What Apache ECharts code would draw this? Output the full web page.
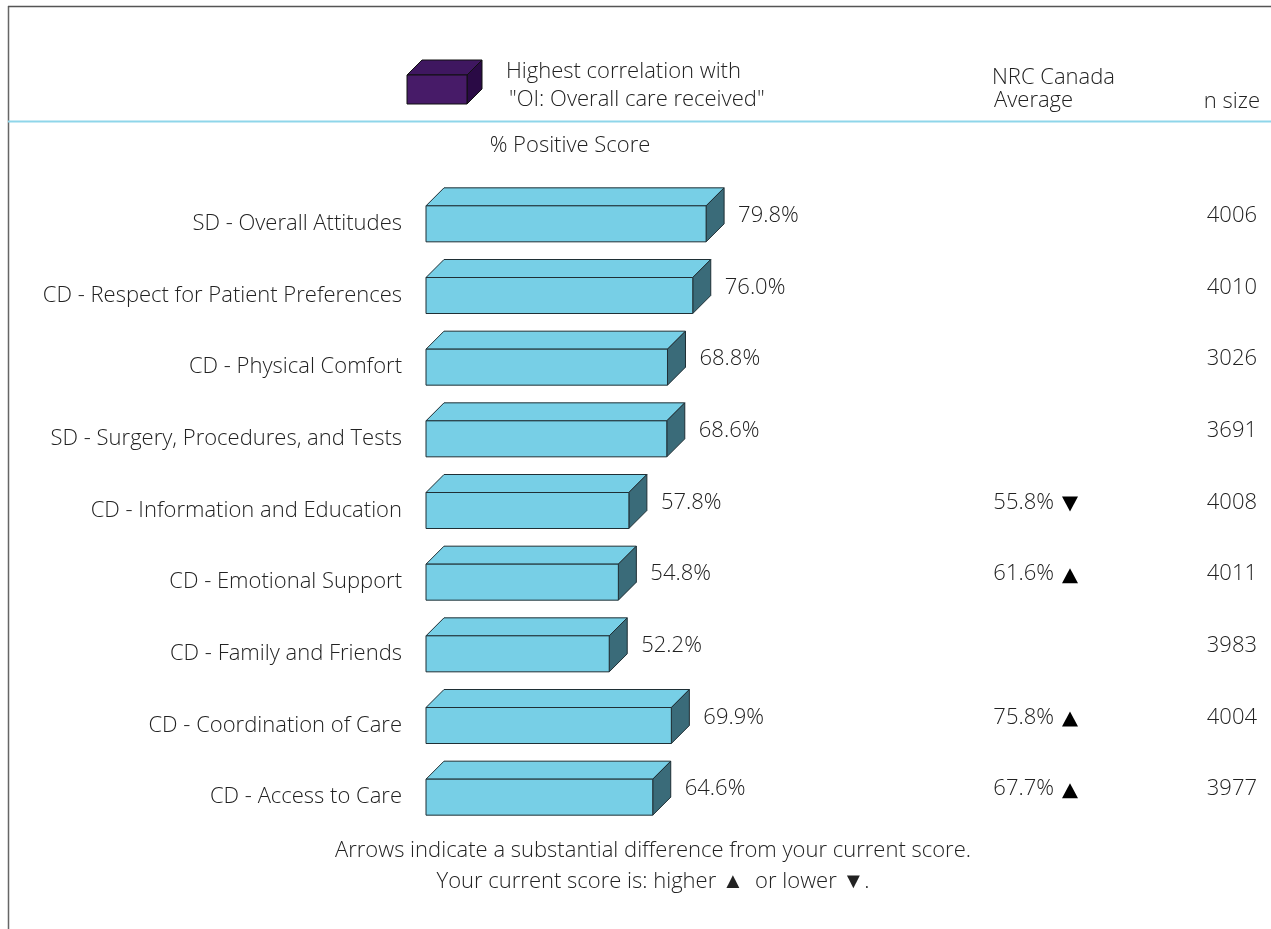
<!DOCTYPE html>
<html>
<head>
<meta charset="utf-8">
<style>
  html, body { margin: 0; padding: 0; background: #fff; }
  #chart { width: 1271px; height: 929px; }
</style>
<script src="https://cdn.jsdelivr.net/npm/echarts@6/dist/echarts.min.js"></script>
</head>
<body>
<div id="chart"></div>
<script>
const categories = [
  'SD - Overall Attitudes',
  'CD - Respect for Patient Preferences',
  'CD - Physical Comfort',
  'SD - Surgery, Procedures, and Tests',
  'CD - Information and Education',
  'CD - Emotional Support',
  'CD - Family and Friends',
  'CD - Coordination of Care',
  'CD - Access to Care'
]
const positiveScore = [79.8, 76.0, 68.8, 68.6, 57.8, 54.8, 52.2, 69.9, 64.6]
const nrcAverage = [null, null, null, null, 55.8, 61.6, null, 75.8, 67.7]
const nrcArrow = ['', '', '', '', 'down', 'up', '', 'up', 'up']
const nSize = [4006, 4010, 3026, 3691, 4008, 4011, 3983, 4004, 3977]

const FONT = '"Open Sans", Lato, sans-serif'
const F = '300 22px ' + FONT
const TXT = '#222'
const DEPTH = 18
const HALF = 18

const chart = echarts.init(document.getElementById('chart'))

// 3d box bar: front face, top face, right side
function renderBar(params, api) {
  const start = api.coord([0, api.value(1)])
  const end = api.coord([api.value(0), api.value(1)])
  const x0 = start[0], x1 = end[0], yc = end[1]
  const yt = yc - HALF, yb = yc + HALF
  const stroke = {stroke: '#1f2f35', lineWidth: 1}
  return {
    type: 'group',
    children: [
      {type: 'polygon', shape: {points: [[x0, yt], [x0 + DEPTH, yt - DEPTH], [x1 + DEPTH, yt - DEPTH], [x1, yt]]},
        style: Object.assign({fill: '#77cfe6'}, stroke)},
      {type: 'polygon', shape: {points: [[x1, yt], [x1 + DEPTH, yt - DEPTH], [x1 + DEPTH, yb - DEPTH], [x1, yb]]},
        style: Object.assign({fill: '#3a6b79'}, stroke)},
      {type: 'rect', shape: {x: x0, y: yt, width: x1 - x0, height: yb - yt},
        style: Object.assign({fill: '#77cfe6'}, stroke)},
      {type: 'text', x: x1 + DEPTH + 14, y: yc - 8,
        style: {text: api.value(0).toFixed(1) + '%', fill: TXT, font: F, verticalAlign: 'middle'}}
    ]
  }
}

// NRC average + arrow + n size columns
function renderCols(params, api) {
  const i = params.dataIndex
  const yc = api.coord([0, api.value(1)])[1]
  const kids = [
    {type: 'text', x: 1257, y: yc - 8,
      style: {text: String(nSize[i]), fill: TXT, font: F, align: 'right', verticalAlign: 'middle'}}
  ]
  if (nrcAverage[i] != null) {
    kids.push({type: 'text', x: 1054, y: yc - 8,
      style: {text: nrcAverage[i].toFixed(1) + '%', fill: TXT, font: F, align: 'right', verticalAlign: 'middle'}})
    const pts = nrcArrow[i] === 'up'
      ? [[1062, yc + 1], [1070, yc - 14], [1078, yc + 1]]
      : [[1062, yc - 14], [1078, yc - 14], [1070, yc + 1]]
    kids.push({type: 'polygon', shape: {points: pts}, style: {fill: '#000'}})
  }
  return {type: 'group', children: kids}
}

chart.setOption({
  animation: false,
  textStyle: {fontFamily: FONT},
  grid: {left: 426, top: 188, width: 351, height: 645},
  xAxis: {type: 'value', min: 0, max: 100, show: false},
  yAxis: {
    type: 'category',
    inverse: true,
    data: categories,
    axisLine: {show: false},
    axisTick: {show: false},
    axisLabel: {fontSize: 22, fontWeight: 300, color: TXT, margin: 24, fontFamily: FONT}
  },
  graphic: [
    {type: 'line', shape: {x1: 8.5, y1: 6, x2: 8.5, y2: 929}, style: {stroke: '#666', lineWidth: 1.5}},
    {type: 'line', shape: {x1: 8, y1: 6.5, x2: 1271, y2: 6.5}, style: {stroke: '#555', lineWidth: 1.5}},
    {type: 'line', shape: {x1: 8, y1: 121.5, x2: 1271, y2: 121.5}, style: {stroke: '#8fd6ea', lineWidth: 2}},
    // legend box
    {type: 'polygon', shape: {points: [[407, 75], [422, 60], [482, 60], [467, 75]]}, style: {fill: '#3f1760', stroke: '#111', lineWidth: 1}},
    {type: 'polygon', shape: {points: [[467, 75], [482, 60], [482, 89], [467, 104]]}, style: {fill: '#2a0a45', stroke: '#111', lineWidth: 1}},
    {type: 'rect', shape: {x: 407, y: 75, width: 60, height: 29}, style: {fill: '#471b68', stroke: '#111', lineWidth: 1}},
    {type: 'text', x: 506, y: 72, style: {text: 'Highest correlation with', font: F, fill: TXT, verticalAlign: 'middle'}},
    {type: 'text', x: 509, y: 100, style: {text: '"OI: Overall care received"', font: F, fill: TXT, verticalAlign: 'middle'}},
    {type: 'text', x: 992, y: 78, style: {text: 'NRC Canada', font: F, fill: TXT, verticalAlign: 'middle'}},
    {type: 'text', x: 994, y: 101, style: {text: 'Average', font: F, fill: TXT, verticalAlign: 'middle'}},
    {type: 'text', x: 1260, y: 102, style: {text: 'n size', font: F, fill: TXT, align: 'right', verticalAlign: 'middle'}},
    {type: 'text', x: 570, y: 146, style: {text: '% Positive Score', font: F, fill: TXT, align: 'center', verticalAlign: 'middle'}},
    {type: 'text', x: 653, y: 851, style: {text: 'Arrows indicate a substantial difference from your current score.', font: F, fill: TXT, align: 'center', verticalAlign: 'middle'}},
    {type: 'text', x: 653, y: 882, style: {text: 'Your current score is: higher ▲  or lower ▼.', font: F, fill: TXT, align: 'center', verticalAlign: 'middle'}}
  ],
  series: [
    {
      type: 'custom',
      renderItem: renderBar,
      encode: {x: 0, y: 1},
      data: positiveScore.map((v, i) => [v, i])
    },
    {
      type: 'custom',
      renderItem: renderCols,
      encode: {x: 0, y: 1},
      data: nSize.map((n, i) => [0, i])
    }
  ]
})
</script>
</body>
</html>
